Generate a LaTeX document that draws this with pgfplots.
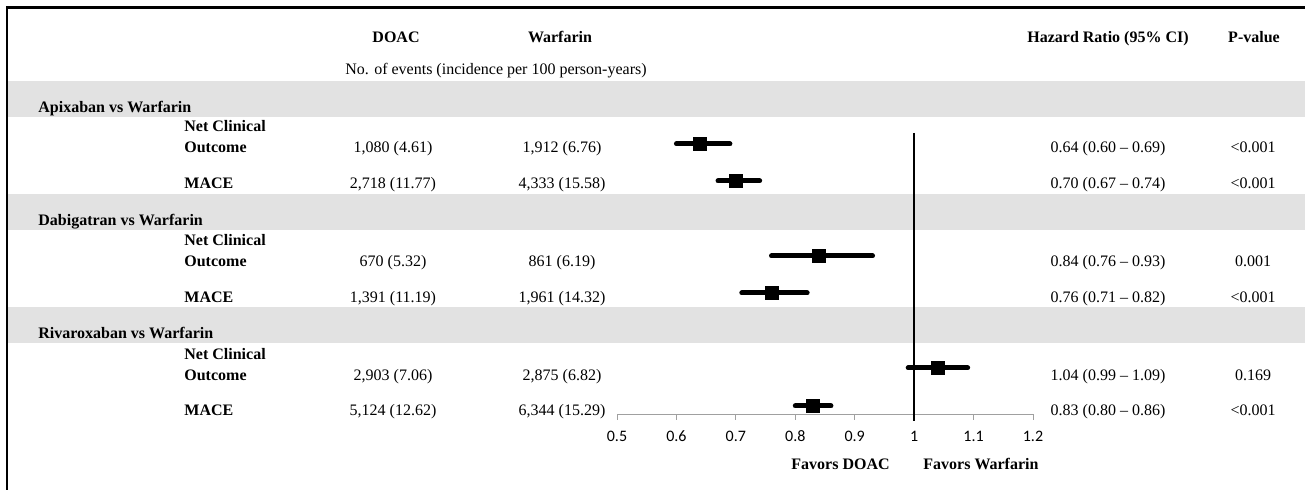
\documentclass[border=0pt]{standalone}
\usepackage{fontspec}
\setmainfont{Liberation Serif}
\newfontfamily\calfont{Carlito}
\usepackage{pgfplots}
\pgfplotsset{compat=1.18}
\definecolor{bandgray}{RGB}{226,226,226}
\definecolor{axgray}{RGB}{160,160,160}

\begin{document}
\begin{tikzpicture}[x=0.5pt,y=-0.5pt]
\useasboundingbox (0,0) rectangle (1305,490);
% shaded section rows
\fill[bandgray] (8,81) rectangle (1305,117);
\fill[bandgray] (8,194) rectangle (1305,230);
\fill[bandgray] (8,307) rectangle (1305,343);
% frame
\draw[line width=1.5pt] (6,7.5) -- (1305,7.5);
\draw[line width=1pt] (7,7) -- (7,490);
\coordinate (axorigin) at (617,414);

\begin{axis}[
    at={(axorigin)}, anchor=south west,
    scale only axis,
    width=208pt, height=140.5pt,
    xmin=0.5, xmax=1.2,
    ymin=-414, ymax=-133,
    axis x line*=bottom,
    axis y line=none,
    x axis line style={draw=axgray,-},
    xtick={0.5,0.6,0.7,0.8,0.9,1,1.1,1.2},
    tick align=outside,
    major tick length=3pt,
    tick style={draw=axgray,line width=0.5pt},
    xticklabel style={font=\calfont\fontsize{8}{9.6}\selectfont, yshift=-2pt},
    /pgf/number format/assume math mode=true,
    clip=false,
]
\addplot[black, line width=1pt] coordinates {(1,-133) (1,-421)};
\addplot[black, only marks, mark=square*, mark size=3.3pt,
    error bars/.cd, x dir=both, x explicit, error mark=none,
    error bar style={line width=2.5pt, line cap=round}]
coordinates {
    (0.64,-144) += (0.05,0) -= (0.04,0)
    (0.70,-181) += (0.04,0) -= (0.03,0)
    (0.84,-256) += (0.09,0) -= (0.08,0)
    (0.76,-293) += (0.06,0) -= (0.05,0)
    (1.04,-368) += (0.05,0) -= (0.05,0)
    (0.83,-406) += (0.03,0) -= (0.03,0)
};
\end{axis}

\begin{scope}[every node/.style={font=\fontsize{8}{9.6}\selectfont, inner sep=0pt, anchor=base}]
% headers
\node[font=\fontsize{8}{9.6}\selectfont\bfseries] at (396,43) {DOAC};
\node[font=\fontsize{8}{9.6}\selectfont\bfseries] at (560,43) {Warfarin};
\node[font=\fontsize{8}{9.6}\selectfont\bfseries] at (1108,43) {Hazard Ratio (95\% CI)};
\node[font=\fontsize{8}{9.6}\selectfont\bfseries] at (1254,43) {P-value};
\node[anchor=base west] at (345,75) {No. of events (incidence per 100 person-years)};
% section labels
\node[anchor=base west, font=\fontsize{8}{9.6}\selectfont\bfseries] at (38,113) {Apixaban vs Warfarin};
\node[anchor=base west, font=\fontsize{8}{9.6}\selectfont\bfseries] at (38,226) {Dabigatran vs Warfarin};
\node[anchor=base west, font=\fontsize{8}{9.6}\selectfont\bfseries] at (38,339) {Rivaroxaban vs Warfarin};
% outcome labels
\foreach \yy in {132,246,360} {
  \node[anchor=base west, font=\fontsize{8}{9.6}\selectfont\bfseries] at (184,\yy) {Net Clinical};
}
\foreach \yy in {153,267,381} {
  \node[anchor=base west, font=\fontsize{8}{9.6}\selectfont\bfseries] at (184,\yy) {Outcome};
}
\foreach \yy in {189,303,416} {
  \node[anchor=base west, font=\fontsize{8}{9.6}\selectfont\bfseries] at (184,\yy) {MACE};
}
% event counts
\node at (393,153) {1,080 (4.61)};
\node at (562,153) {1,912 (6.76)};
\node at (393,189) {2,718 (11.77)};
\node at (562,189) {4,333 (15.58)};
\node at (393,267) {670 (5.32)};
\node at (562,267) {861 (6.19)};
\node at (393,303) {1,391 (11.19)};
\node at (562,303) {1,961 (14.32)};
\node at (393,381) {2,903 (7.06)};
\node at (562,381) {2,875 (6.82)};
\node at (393,416) {5,124 (12.62)};
\node at (562,416) {6,344 (15.29)};
% hazard ratios and p-values
\node at (1108,153) {0.64 (0.60 -- 0.69)};
\node at (1253,153) {<0.001};
\node at (1108,189) {0.70 (0.67 -- 0.74)};
\node at (1253,189) {<0.001};
\node at (1108,267) {0.84 (0.76 -- 0.93)};
\node at (1253,267) {0.001};
\node at (1108,303) {0.76 (0.71 -- 0.82)};
\node at (1253,303) {<0.001};
\node at (1108,381) {1.04 (0.99 -- 1.09)};
\node at (1253,381) {0.169};
\node at (1108,416) {0.83 (0.80 -- 0.86)};
\node at (1253,416) {<0.001};
% direction labels
\node[anchor=base east, font=\fontsize{8}{9.6}\selectfont\bfseries] at (890,470) {Favors DOAC};
\node[anchor=base west, font=\fontsize{8}{9.6}\selectfont\bfseries] at (923,470) {Favors Warfarin};
\end{scope}
\end{tikzpicture}
\end{document}
